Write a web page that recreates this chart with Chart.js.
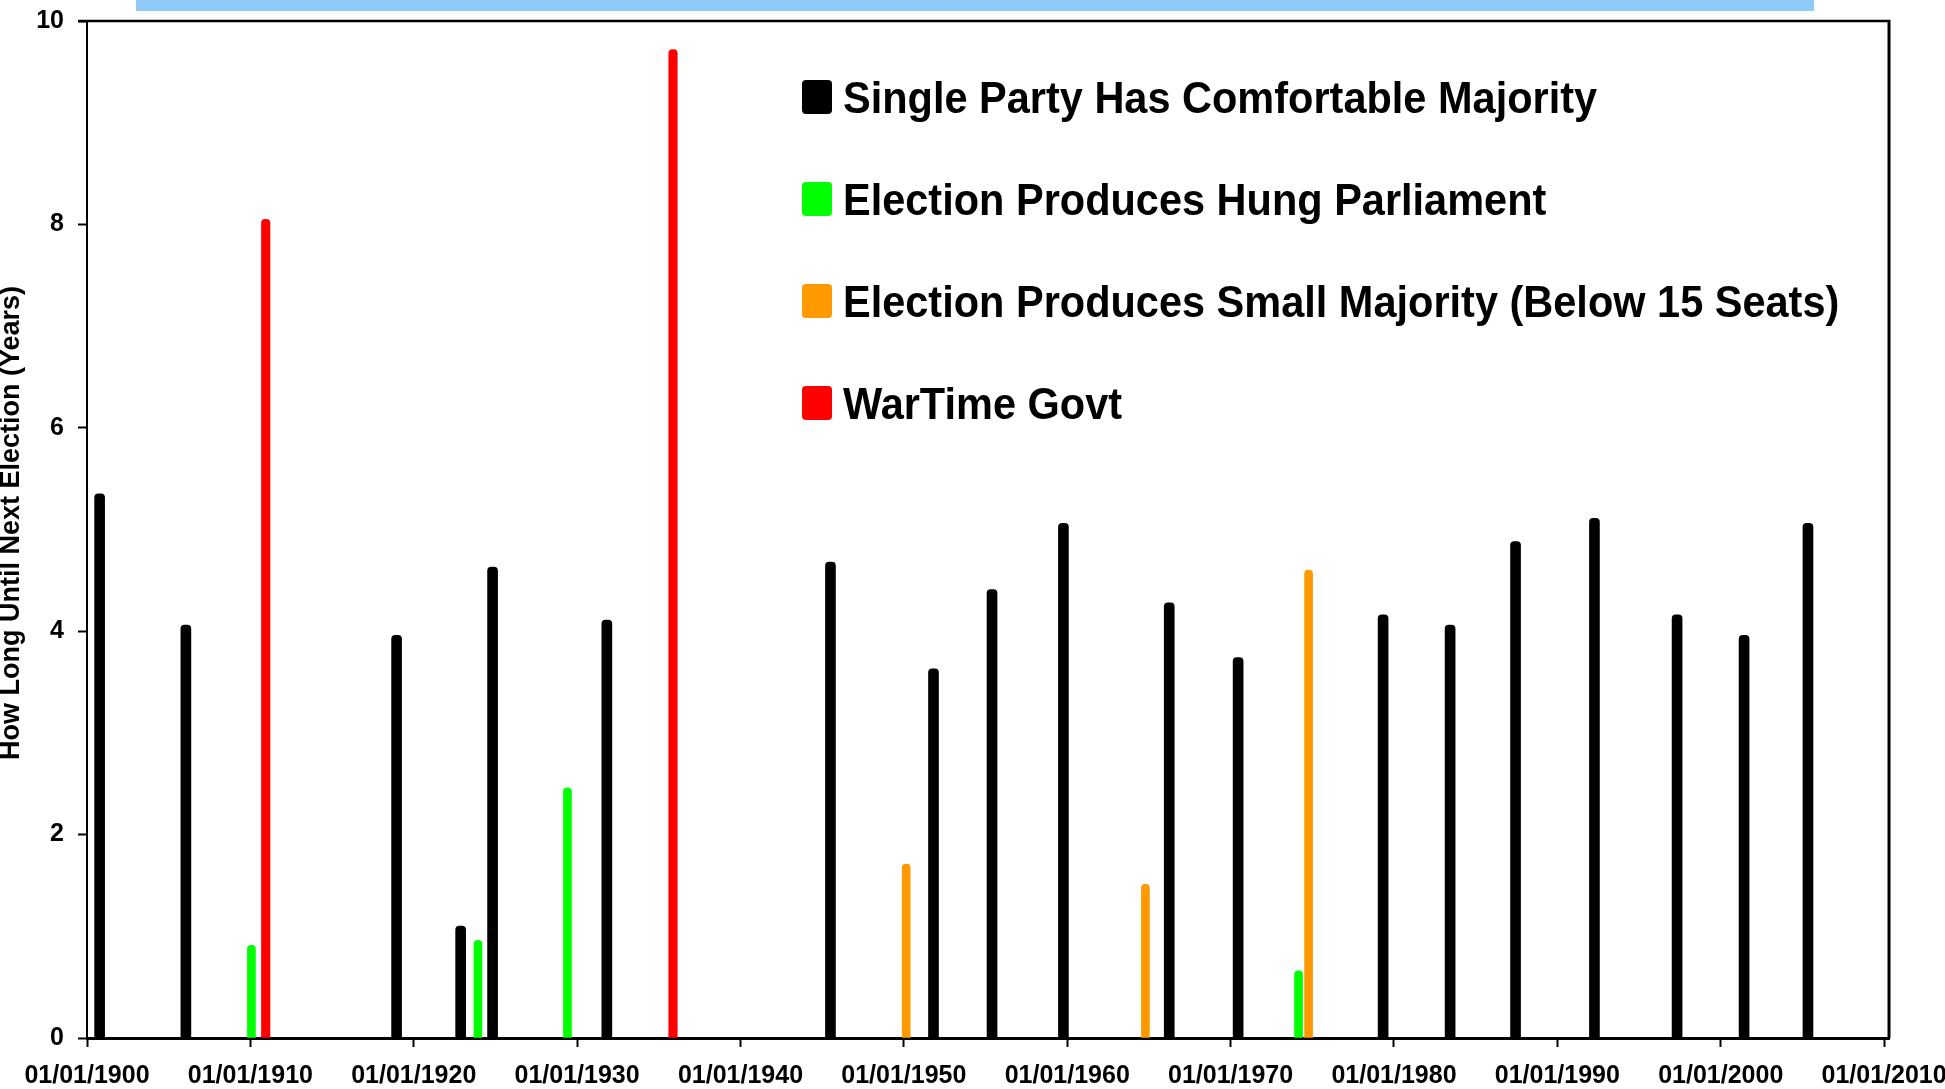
<!DOCTYPE html>
<html>
<head>
<meta charset="utf-8">
<script src="https://cdn.jsdelivr.net/npm/chart.js@4/dist/chart.umd.min.js"></script>
<style>
  html, body { margin: 0; padding: 0; background: #ffffff; }
  #wrap { position: relative; width: 1945px; height: 1089px; }
  #topband { position: absolute; left: 136px; top: 0; width: 1678px; height: 11px; background: #90CAF9; }
  canvas { position: absolute; left: 0; top: 0; }
</style>
</head>
<body>
<div id="wrap">
  <div id="topband"></div>
  <canvas id="c" width="1945" height="1089"></canvas>
</div>
<script>
// ---- Data ----
const seriesLabels = [
  "Single Party Has Comfortable Majority",
  "Election Produces Hung Parliament",
  "Election Produces Small Majority (Below 15 Seats)",
  "WarTime Govt"
];
const seriesColors = ["#000000", "#00FF00", "#FF9900", "#FF0000"];

// Election dates and years until next election, per category
const majorityDates = ["1900-10-10","1906-01-20","1918-12-14","1922-11-15","1924-10-29","1931-10-27",
  "1945-07-05","1951-10-25","1955-05-26","1959-10-08","1966-03-31","1970-06-18",
  "1979-05-03","1983-06-09","1987-06-11","1992-04-09","1997-05-01","2001-06-07","2005-05-05"];
const majorityYears = [5.35,4.06,3.96,1.10,4.63,4.11,4.68,3.63,4.41,5.06,4.28,3.74,4.16,4.06,4.88,5.11,4.16,3.96,5.06];

const hungDates = ["1910-01-25","1923-12-06","1929-05-30","1974-02-28"];
const hungYears = [0.91,0.96,2.46,0.66];

const smallDates = ["1950-02-23","1964-10-15","1974-10-10"];
const smallYears = [1.71,1.51,4.60];

const warDates = ["1910-12-10","1935-11-14"];
const warYears = [8.05,9.72];

const xTickValues = [1900,1910,1920,1930,1940,1950,1960,1970,1980,1990,2000,2010];
const yTickValues = [0,2,4,6,8,10];
const yTitle = "How Long Until Next Election (Years)";

// ---- helpers ----
function toDecimalYear(s) {
  const [y, m, d] = s.split("-").map(Number);
  const start = Date.UTC(y, 0, 1), end = Date.UTC(y + 1, 0, 1);
  return y + (Date.UTC(y, m - 1, d) - start) / (end - start);
}
function pts(dates, vals) { return dates.map((d, i) => ({ x: toDecimalYear(d), y: vals[i] })); }

const FONT = "'Liberation Sans', Arial, sans-serif";
const thickness = [10, 8, 8, 8.5];

const datasets = [
  pts(majorityDates, majorityYears),
  pts(hungDates, hungYears),
  pts(smallDates, smallYears),
  pts(warDates, warYears)
].map((data, i) => ({
  label: seriesLabels[i],
  data: data,
  backgroundColor: seriesColors[i],
  borderWidth: 0,
  barThickness: thickness[i],
  grouped: false,
  borderSkipped: 'start',
  borderRadius: { topLeft: 4, topRight: 4, bottomLeft: 0, bottomRight: 0 }
}));

const framePlugin = {
  id: 'frame',
  afterDraw(chart) {
    const { ctx, chartArea: a } = chart;
    ctx.save();
    ctx.strokeStyle = '#000';
    // top border
    ctx.lineWidth = 2.5;
    ctx.beginPath(); ctx.moveTo(a.left - 9, a.top); ctx.lineTo(a.right + 1, a.top); ctx.stroke();
    // right border
    ctx.lineWidth = 3;
    ctx.beginPath(); ctx.moveTo(a.right, a.top - 1); ctx.lineTo(a.right, a.bottom); ctx.stroke();
    // y axis title
    ctx.fillStyle = '#000';
    ctx.font = "bold 27px " + FONT;
    ctx.textAlign = 'center';
    ctx.textBaseline = 'middle';
    ctx.translate(12, 523);
    ctx.rotate(-Math.PI / 2);
    ctx.fillText(yTitle, 0, 0);
    ctx.restore();

    // legend
    ctx.save();
    chart.data.datasets.forEach((ds, i) => {
      const cy = 97 + i * 102;
      ctx.fillStyle = ds.backgroundColor;
      ctx.beginPath();
      if (ctx.roundRect) ctx.roundRect(802, cy - 17, 30, 34, 4); else ctx.rect(802, cy - 17, 30, 34);
      ctx.fill();
      ctx.save();
      ctx.fillStyle = '#000';
      ctx.font = "bold 41.5px " + FONT;
      ctx.textAlign = 'left';
      ctx.textBaseline = 'alphabetic';
      ctx.translate(843, cy + 16);
      ctx.scale(1, 1.08);
      ctx.fillText(ds.label, 0, 0);
      ctx.restore();
    });
    ctx.restore();
  }
};

new Chart(document.getElementById('c'), {
  type: 'bar',
  data: { datasets },
  options: {
    responsive: false,
    animation: false,
    layout: { padding: { left: 0, top: 21, right: 56, bottom: 0 } },
    plugins: { legend: { display: false }, tooltip: { enabled: false } },
    scales: {
      x: {
        type: 'linear',
        min: 1900,
        max: 2010.3,
        offset: false,
        grid: { display: true, offset: false, drawOnChartArea: false, drawTicks: true, tickLength: 9, color: '#000', tickWidth: 2 },
        border: { display: true, color: '#000', width: 3 },
        afterBuildTicks: (scale) => { scale.ticks = xTickValues.map(v => ({ value: v })); },
        afterFit: (scale) => { scale.height = 51; scale.paddingLeft = 0; scale.paddingRight = 0; },
        ticks: {
          autoSkip: false,
          maxRotation: 0,
          padding: 14,
          color: '#000',
          font: { family: FONT, size: 25, weight: 'bold' },
          callback: (v) => '01/01/' + v
        }
      },
      y: {
        type: 'linear',
        min: 0,
        max: 10,
        grid: { display: true, drawOnChartArea: false, drawTicks: true, tickLength: 9, color: '#000', tickWidth: 2 },
        border: { display: true, color: '#000', width: 2 },
        afterBuildTicks: (scale) => { scale.ticks = yTickValues.map(v => ({ value: v })); },
        afterFit: (scale) => { scale.width = 87; scale.paddingTop = 0; scale.paddingBottom = 0; },
        ticks: {
          padding: 14,
          color: '#000',
          font: { family: FONT, size: 25, weight: 'bold' }
        }
      }
    }
  },
  plugins: [framePlugin]
});
</script>
</body>
</html>
